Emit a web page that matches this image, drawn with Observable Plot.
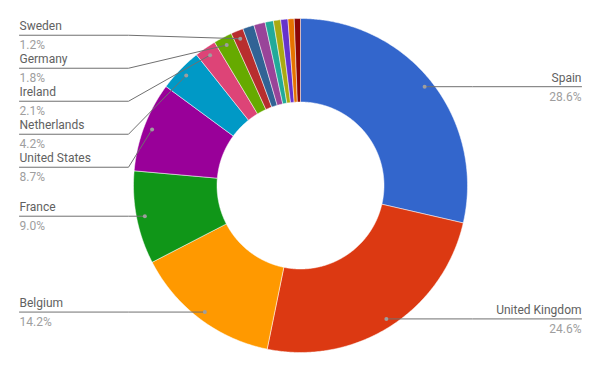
<!DOCTYPE html>
<html>
<head>
<meta charset="utf-8">
<script src="https://cdn.jsdelivr.net/npm/d3@7"></script>
<script src="https://cdn.jsdelivr.net/npm/@observablehq/plot@0.6"></script>
<style>
  html, body { margin: 0; padding: 0; background: #fff; }
  #chart svg { display: block; }
</style>
</head>
<body>
<div id="chart"></div>
<script>
// ---- Data ----
const countries = ["Spain", "United Kingdom", "Belgium", "France", "United States",
  "Netherlands", "Ireland", "Germany", "Sweden",
  "Other 1", "Other 2", "Other 3", "Other 4", "Other 5", "Other 6", "Other 7"];
const shares = [28.6, 24.6, 14.2, 9.0, 8.7, 4.2, 2.1, 1.8, 1.2,
  1.1, 1.1, 0.8, 0.7, 0.7, 0.6, 0.6];
const palette = ["#3366cc", "#dc3912", "#ff9900", "#109618", "#990099", "#0099c6",
  "#dd4477", "#66aa00", "#b82e2e", "#316395", "#994499", "#22aa99", "#aaaa11",
  "#6633cc", "#e67300", "#8b0707"];
const labelMin = 1.2; // slices at or above this share get a label

// ---- Layout constants ----
const W = 600, H = 371;
const cx = 300, cy = 185, R = 167;   // pixel centre / outer radius
const hole = 0.5;                    // inner radius fraction
const dotR = 0.95;                   // leader dot radius (fraction)
const labelX = 281 / R;              // label edge offset from centre (data units)
const elbowX = 172 / R;              // elbow of leader lines
const spacing = 33 / R;              // min vertical spacing of stacked labels
const clusterLift = 3.5 / R;         // stacked clusters are lifted slightly

// ---- Derived geometry (in scale units, y up) ----
const total = d3.sum(shares);
let cum = 0;
const slices = countries.map((name, i) => {
  const a0 = cum / total * 2 * Math.PI;
  cum += shares[i];
  const a1 = cum / total * 2 * Math.PI;
  return {name, value: shares[i], a0, a1, mid: (a0 + a1) / 2};
});

const poly = [];
for (const s of slices) {
  const n = Math.max(2, Math.ceil((s.a1 - s.a0) / (Math.PI / 360)));
  const pts = [];
  for (let k = 0; k <= n; k++) {
    const a = s.a0 + (s.a1 - s.a0) * k / n;
    pts.push({name: s.name, x: Math.sin(a), y: Math.cos(a)});
  }
  for (let k = n; k >= 0; k--) {
    const a = s.a0 + (s.a1 - s.a0) * k / n;
    pts.push({name: s.name, x: hole * Math.sin(a), y: hole * Math.cos(a)});
  }
  pts.push(pts[0]);
  poly.push(...pts);
}

// labels
const labeled = slices.filter(s => s.value >= labelMin).map(s => ({
  ...s,
  dx: dotR * Math.sin(s.mid),
  dy: dotR * Math.cos(s.mid),
  side: Math.sin(s.mid) >= 0 ? "right" : "left",
  pct: s.value.toFixed(1) + "%"
}));
for (const side of ["left", "right"]) {
  const group = labeled.filter(d => d.side === side).sort((a, b) => b.dy - a.dy);
  let prev = Infinity;
  let cluster = [];
  const flush = () => {
    if (cluster.length > 1) for (const c of cluster) c.ly += clusterLift;
  };
  for (const d of group) {
    if (d.dy > prev - spacing) {
      d.ly = prev - spacing;
      cluster.push(d);
    } else {
      flush();
      d.ly = d.dy;
      cluster = [d];
    }
    prev = d.ly;
  }
  flush();
}
const leaders = [];
for (const d of labeled) {
  const sgn = d.side === "left" ? -1 : 1;
  leaders.push({name: d.name, x: d.dx, y: d.dy});
  if (Math.abs(d.dx) < elbowX) leaders.push({name: d.name, x: sgn * elbowX, y: d.ly});
  leaders.push({name: d.name, x: sgn * labelX, y: d.ly});
}
const left = labeled.filter(d => d.side === "left");
const right = labeled.filter(d => d.side === "right");

const txt = {fontFamily: "Roboto", fontSize: 12};

const chart = Plot.plot({
  width: W, height: H,
  margin: 0,
  style: {background: "#fff", fontFamily: "Roboto", overflow: "visible"},
  x: {domain: [-1, 1], range: [cx - R, cx + R], axis: null},
  y: {domain: [-1, 1], range: [cy + R, cy - R], axis: null},
  color: {domain: countries, range: palette},
  marks: [
    Plot.line(poly, {x: "x", y: "y", z: "name", fill: "name", stroke: "#ffffff", strokeWidth: 0.5, curve: "linear"}),
    Plot.line(leaders, {x: "x", y: "y", z: "name", stroke: "#707070", strokeWidth: 1}),
    Plot.dot(labeled, {x: "dx", y: "dy", r: 2, fill: "#9e9e9e", stroke: "none"}),
    Plot.text(left, {x: -labelX, y: "ly", text: "name", dy: -9, textAnchor: "start", fill: "#616161", ...txt}),
    Plot.text(left, {x: -labelX, y: "ly", text: "pct", dy: 10, textAnchor: "start", fill: "#9e9e9e", ...txt}),
    Plot.text(right, {x: labelX, y: "ly", text: "name", dy: -9, textAnchor: "end", fill: "#616161", ...txt}),
    Plot.text(right, {x: labelX, y: "ly", text: "pct", dy: 10, textAnchor: "end", fill: "#9e9e9e", ...txt})
  ]
});
document.getElementById("chart").appendChild(chart);
</script>
</body>
</html>
